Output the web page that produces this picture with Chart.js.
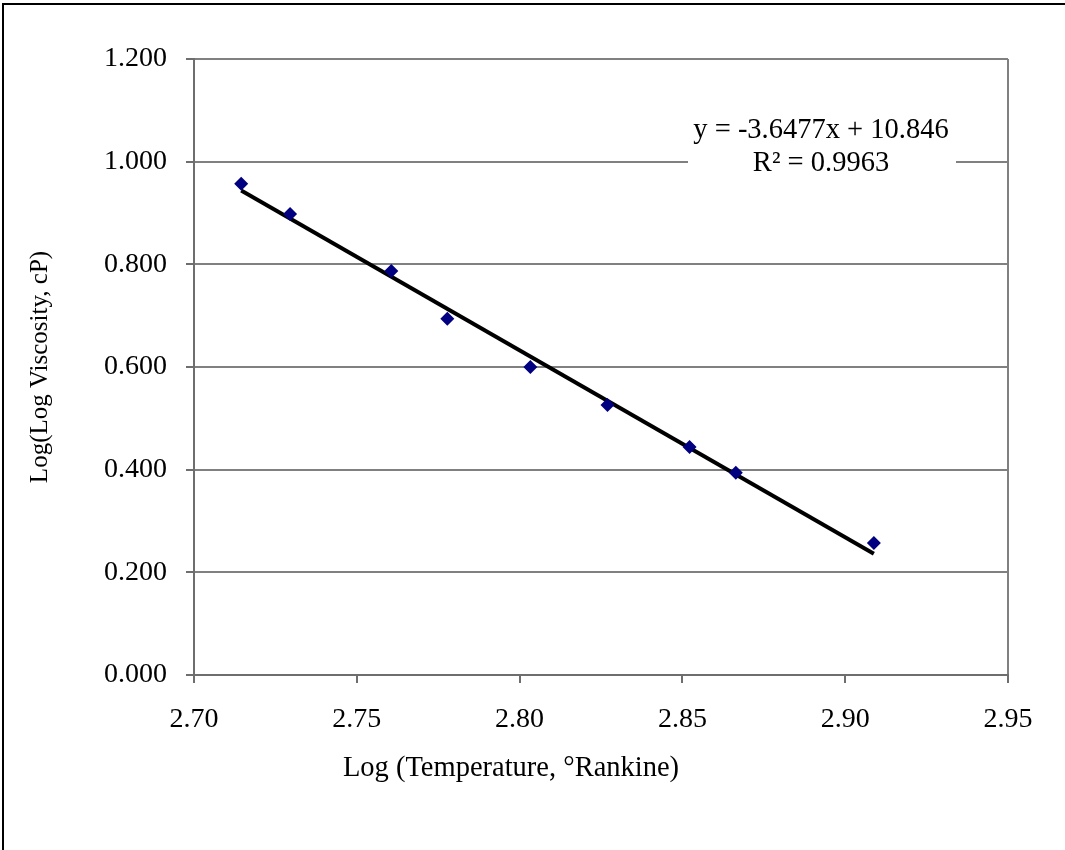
<!DOCTYPE html>
<html>
<head>
<meta charset="utf-8">
<script src="https://cdn.jsdelivr.net/npm/chart.js@4.4.1/dist/chart.umd.min.js"></script>
<style>
  html, body { margin: 0; padding: 0; background: #fff; overflow: hidden; }
  #frame { position: absolute; left: 2px; top: 3px; width: 1200px; height: 1000px;
           border-top: 2px solid #000; border-left: 2px solid #000; }
  #chartCanvas { position: absolute; left: 0; top: 0; }
</style>
</head>
<body>
<div id="frame"></div>
<canvas id="chartCanvas" width="1065" height="850"></canvas>
<script>
// measured points (log T in °R, log log viscosity in cP)
const logTemp = [2.7145, 2.7295, 2.7606, 2.7778, 2.8033, 2.8270, 2.8522, 2.8664, 2.9088];
const logLogVisc = [0.957, 0.898, 0.787, 0.694, 0.600, 0.526, 0.444, 0.394, 0.257];

// trendline end points as drawn
const trendX = [2.7145, 2.9088];
const trendY = [0.944, 0.236];

const xTitle = "Log (Temperature, °Rankine)";
const yTitle = "Log(Log Viscosity, cP)";
const equationLines = ["y = -3.6477x + 10.846", "R² = 0.9963"];

const serif = "'Liberation Serif', 'Times New Roman', serif";
const gridGray = "#808080";
const axisGray = "#6e6e6e";

const extraText = {
    id: "extraText",
    afterDraw(chart) {
        const ctx = chart.ctx;
        ctx.save();
        // white box behind the trendline label
        ctx.fillStyle = "#ffffff";
        ctx.fillRect(688, 110, 268, 70);
        ctx.fillStyle = "#000";
        ctx.textAlign = "center";
        ctx.textBaseline = "middle";
        ctx.font = "28.5px " + serif;
        ctx.fillText(equationLines[0], 821, 131);
        ctx.fillText(equationLines[1], 821, 164);
        // x axis title
        ctx.font = "28.5px " + serif;
        ctx.fillText(xTitle, 511, 769);
        ctx.restore();
    }
};

const points = logTemp.map((x, i) => ({ x, y: logLogVisc[i] }));
const trend = trendX.map((x, i) => ({ x, y: trendY[i] }));

const ctx = document.getElementById("chartCanvas").getContext("2d");

new Chart(ctx, {
    type: "scatter",
    data: {
        datasets: [
            {
                label: "Data",
                data: points,
                pointStyle: "rectRot",
                pointRadius: 7,
                backgroundColor: "#000080",
                borderColor: "#000080",
                borderWidth: 0,
                showLine: false
            },
            {
                label: "Linear",
                data: trend,
                showLine: true,
                borderColor: "#000000",
                borderWidth: 4,
                pointRadius: 0,
                fill: false
            }
        ]
    },
    options: {
        responsive: false,
        animation: false,
        layout: { padding: { top: 59, right: 57, left: 0, bottom: 0 } },
        scales: {
            x: {
                type: "linear",
                min: 2.7,
                max: 2.95,
                afterFit: s => { s.height = 175; },
                ticks: {
                    stepSize: 0.05,
                    color: "#000",
                    font: { family: serif, size: 28 },
                    padding: 20,
                    callback: v => v.toFixed(2)
                },
                grid: {
                    color: c => (c.index === 5 ? gridGray : "rgba(0,0,0,0)"),
                    lineWidth: 2,
                    tickColor: axisGray,
                    tickLength: 8
                },
                border: { color: axisGray, width: 2 }
            },
            y: {
                min: 0,
                max: 1.2,
                afterFit: s => { s.width = 194; },
                ticks: {
                    stepSize: 0.2,
                    color: "#000",
                    font: { family: serif, size: 28 },
                    padding: 19,
                    callback: v => v.toFixed(3)
                },
                grid: {
                    color: gridGray,
                    lineWidth: 2,
                    tickColor: axisGray,
                    tickLength: 8
                },
                border: { color: axisGray, width: 2 },
                title: {
                    display: true,
                    text: yTitle,
                    color: "#000",
                    font: { family: serif, size: 25 },
                    padding: { top: 25, bottom: 0 }
                }
            }
        },
        plugins: {
            legend: { display: false },
            tooltip: { enabled: false }
        }
    },
    plugins: [extraText]
});
</script>
</body>
</html>
